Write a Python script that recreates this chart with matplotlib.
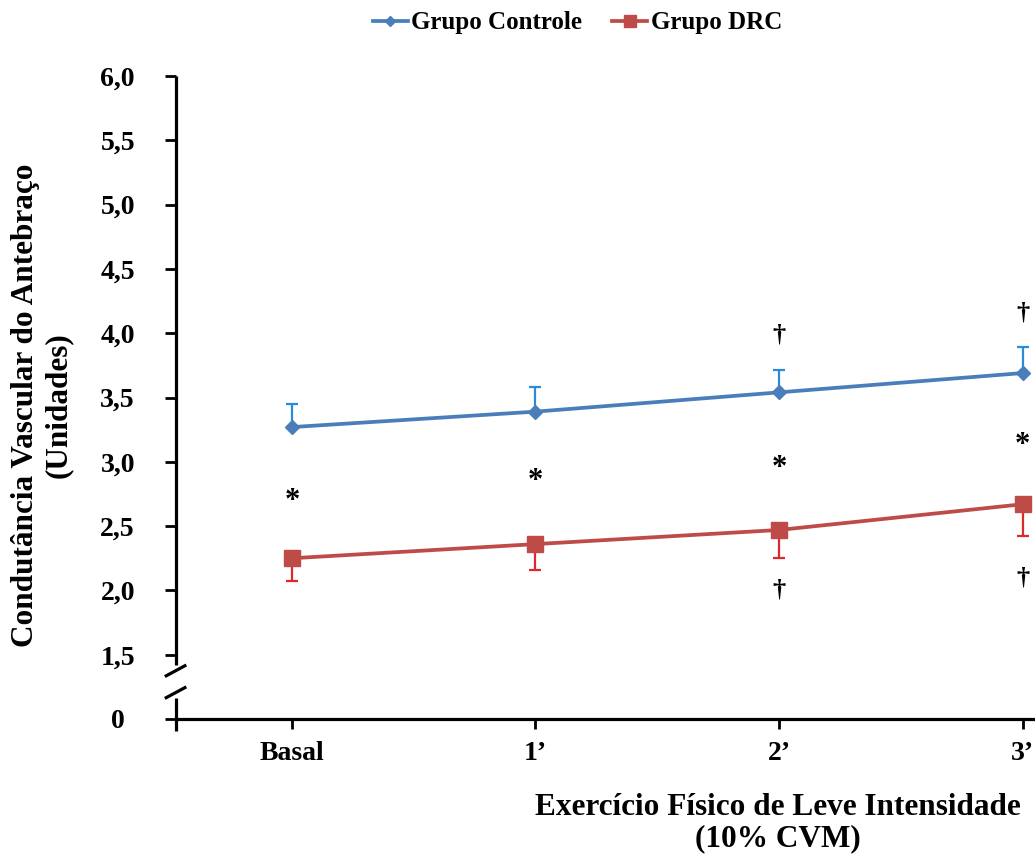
import numpy as np
import matplotlib
matplotlib.use("Agg")
import matplotlib.pyplot as plt

plt.rcParams['font.family'] = ['Liberation Serif', 'DejaVu Serif']
plt.rcParams['font.weight'] = 'bold'

categories = ['Basal', '1\u2019', '2\u2019', '3\u2019']
controle = [3.27, 3.39, 3.54, 3.69]
controle_ep = [0.18, 0.19, 0.17, 0.20]
drc = [2.25, 2.36, 2.47, 2.67]
drc_ep = [0.18, 0.20, 0.22, 0.25]

# significance marks: (category index, y value)
star_y = [2.69, 2.85, 2.95, 3.13]
dagger_top = [(2, 3.985), (3, 4.156)]
dagger_bottom = [(2, 2.00), (3, 2.10)]

ytick_vals = [1.0, 1.5, 2.0, 2.5, 3.0, 3.5, 4.0, 4.5, 5.0, 5.5, 6.0]
ytick_labels = ['0', '1,5', '2,0', '2,5', '3,0', '3,5', '4,0', '4,5', '5,0', '5,5', '6,0']

blue = '#4A7EBB'
blue_err = '#2A8BDC'
red = '#BE4B48'
red_err = '#DC2A2A'

W, H = 1035, 857
fig = plt.figure(figsize=(W / 100, H / 100), dpi=100)
ax = fig.add_axes([176 / W, 1 - 719 / H, (W - 176) / W, (719 - 76) / H])

x = np.arange(len(categories))

ax.errorbar(x, controle, yerr=[np.zeros(4), controle_ep], fmt='none',
            ecolor=blue_err, elinewidth=1.6, capsize=4, capthick=1.6, zorder=2)
ax.errorbar(x, drc, yerr=[drc_ep, np.zeros(4)], fmt='none',
            ecolor=red_err, elinewidth=1.6, capsize=4, capthick=1.6, zorder=2)
ax.plot(x, controle, color=blue, lw=2.7, marker='D', ms=7, mec=blue, mfc=blue,
        label='Grupo Controle', zorder=3)
ax.plot(x, drc, color=red, lw=2.7, marker='s', ms=11, mec=red, mfc=red,
        label='Grupo DRC', zorder=3)

for i, y in enumerate(star_y):
    ax.text(x[i], y, '*', ha='center', va='center', fontsize=22, fontweight='bold')
for i, y in dagger_top + dagger_bottom:
    ax.text(x[i], y, '\u2020', ha='center', va='center', fontsize=19, fontweight='bold')

ax.set_xlim(-0.476, 3.051)
ax.set_ylim(1.0, 6.0)
ax.set_xticks(x, categories, fontsize=20, fontweight='bold')
ax.set_yticks(ytick_vals, ytick_labels, fontsize=20, fontweight='bold')
for lbl in ax.get_yticklabels():
    lbl.set_horizontalalignment('center')

ax.tick_params(axis='y', direction='out', length=8, width=2, pad=34)
ax.tick_params(axis='x', direction='out', length=7, width=2, pad=9)

for s in ['top', 'right', 'left']:
    ax.spines[s].set_visible(False)
ax.spines['bottom'].set_linewidth(2.3)

# left spine with axis break
kw = dict(transform=ax.transAxes, color='black', lw=2.3, clip_on=False,
          solid_capstyle='butt')
ax.plot([0, 0], [1.0, 0.084], **kw)
ax.plot([0, 0], [0.032, -0.018], **kw)
ax.plot([-0.013, 0.012], [0.066, 0.084], **kw)
ax.plot([-0.013, 0.012], [0.032, 0.050], **kw)

fig.text(42 / W, 1 - 405 / H, 'Condut\u00e2ncia Vascular do Antebra\u00e7o\n(Unidades)',
         rotation=90, ha='center', va='center', multialignment='center',
         fontsize=22.5, fontweight='bold')
fig.text(778 / W, 1 - 823 / H, 'Exerc\u00edcio F\u00edsico de Leve Intensidade\n(10% CVM)',
         ha='center', va='center', multialignment='center',
         fontsize=22.5, fontweight='bold', linespacing=1.1)

fig.legend(loc='center', bbox_to_anchor=(0.558, 1 - 23 / H), ncol=2, frameon=False,
           prop={'size': 18, 'weight': 'bold'}, handlelength=1.4,
           handletextpad=0.15, columnspacing=1.2, markerscale=0.75)

fig.savefig('out.png', dpi=100)
